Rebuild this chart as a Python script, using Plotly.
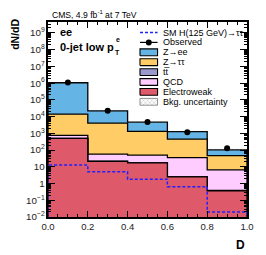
import plotly.graph_objects as go

# ---- data ----
bin_edges = [0.0, 0.2, 0.4, 0.6, 0.8, 1.0]
ewk = [500, 21, 17, 2.5, 0.37]
ttbar = [4, 0.4, 0.3, 0.1, 0.02]
qcd = [256, 35, 32, 33, 6.2]
ztt = [13200, 4040, 1270, 414, 40]
zee = [1036000, 17900, 3280, 800, 57]
higgs = [13, 5.0, 1.8, 0.65, 0.02]
observed = [1.1e6, 2.2e4, 4700, 1150, 130]
bkg_rel_unc = [0.04, 0.05, 0.06, 0.08, 0.15]

legend_labels = ["SM H(125 GeV)\u2192\u03c4\u03c4", "Observed", "Z\u2192ee", "Z\u2192\u03c4\u03c4",
                 "tt\u0305", "QCD", "Electroweak", "Bkg. uncertainty"]

colors = {"zee": "#64B4E6", "ztt": "#FFCC66", "tt": "#9999CC", "qcd": "#FFCCFF", "ewk": "#DE5A6A"}
FONT = "Liberation Sans, Arial, Helvetica, sans-serif"
BASE = 1e-3

def step_poly(vals):
    xs, ys = [bin_edges[0]], [BASE]
    for i, v in enumerate(vals):
        xs += [bin_edges[i], bin_edges[i + 1]]
        ys += [v, v]
    xs.append(bin_edges[-1]); ys.append(BASE)
    return xs, ys

def cumsum_layers(*layers):
    out, acc = [], [0.0] * len(layers[0])
    for lay in layers:
        acc = [a + b for a, b in zip(acc, lay)]
        out.append(list(acc))
    return out

cum_ewk, cum_tt, cum_qcd, cum_ztt, cum_zee = cumsum_layers(ewk, ttbar, qcd, ztt, zee)

fig = go.Figure()
for vals, col in [(cum_zee, colors["zee"]), (cum_ztt, colors["ztt"]), (cum_qcd, colors["qcd"]),
                  (cum_tt, colors["tt"]), (cum_ewk, colors["ewk"])]:
    xs, ys = step_poly(vals)
    fig.add_trace(go.Scatter(x=xs, y=ys, mode="lines", fill="toself", fillcolor=col,
                             line=dict(color="black", width=1.3), hoverinfo="skip", showlegend=False))

# uncertainty band
up = [t * (1 + u) for t, u in zip(cum_zee, bkg_rel_unc)]
lo = [t * (1 - u) for t, u in zip(cum_zee, bkg_rel_unc)]
bx, by = [], []
for i in range(len(up)):
    bx += [bin_edges[i], bin_edges[i + 1]]; by += [up[i], up[i]]
for i in reversed(range(len(lo))):
    bx += [bin_edges[i + 1], bin_edges[i]]; by += [lo[i], lo[i]]
fig.add_trace(go.Scatter(x=bx, y=by, mode="lines", fill="toself", line=dict(width=0),
                         fillcolor="rgba(0,0,0,0)",
                         fillpattern=dict(shape="x", fgcolor="#777777", bgcolor="rgba(0,0,0,0)", size=3, solidity=0.3),
                         hoverinfo="skip", showlegend=False))

# Higgs
hx, hy = step_poly(higgs)
fig.add_trace(go.Scatter(x=hx, y=hy, mode="lines", line=dict(color="#2020FF", width=1.5, dash="3px,2px"),
                         hoverinfo="skip", showlegend=False))

# observed
centers = [(bin_edges[i] + bin_edges[i + 1]) / 2 for i in range(len(observed))]
fig.add_trace(go.Scatter(x=centers, y=observed, mode="markers", marker=dict(color="black", size=6),
                         showlegend=False))

# ---- manual legend on overlay axes ----
W, H, L, T = 204, 195, 48, 22
def fx(px): return (px - L) / W
def fy(py): return (T + H - py) / H

rows = [32.5 + 9.9 * i for i in range(8)]
bx0, bx1 = fx(142.3), fx(160.3)
hh = 3.4 / H
# Higgs line
fig.add_trace(go.Scatter(x=[bx0, bx1], y=[fy(rows[0])] * 2, xaxis="x2", yaxis="y2", mode="lines",
                         line=dict(color="#2020FF", width=1.5, dash="3px,2px"), showlegend=False, hoverinfo="skip"))
# Observed
fig.add_trace(go.Scatter(x=[bx0, bx1], y=[fy(rows[1])] * 2, xaxis="x2", yaxis="y2", mode="lines",
                         line=dict(color="black", width=1.2), showlegend=False, hoverinfo="skip"))
fig.add_trace(go.Scatter(x=[(bx0 + bx1) / 2], y=[fy(rows[1])], xaxis="x2", yaxis="y2", mode="markers",
                         marker=dict(color="black", size=6), showlegend=False, hoverinfo="skip"))
for r, col in zip(rows[2:7], [colors["zee"], colors["ztt"], colors["tt"], colors["qcd"], colors["ewk"]]):
    yc = fy(r)
    fig.add_trace(go.Scatter(x=[bx0, bx1, bx1, bx0, bx0], y=[yc - hh, yc - hh, yc + hh, yc + hh, yc - hh],
                             xaxis="x2", yaxis="y2", mode="lines", fill="toself", fillcolor=col,
                             line=dict(color="black", width=1.1), showlegend=False, hoverinfo="skip"))
yc = fy(rows[7])
fig.add_trace(go.Scatter(x=[bx0, bx1, bx1, bx0, bx0], y=[yc - hh, yc - hh, yc + hh, yc + hh, yc - hh],
                         xaxis="x2", yaxis="y2", mode="lines", fill="toself", fillcolor="white",
                         fillpattern=dict(shape="x", fgcolor="#777777", bgcolor="white", size=3, solidity=0.3),
                         line=dict(color="#777777", width=0.8), showlegend=False, hoverinfo="skip"))

annotations = []
for r, lab in zip(rows, legend_labels):
    annotations.append(dict(x=fx(164.0), y=fy(r), xref="paper", yref="paper", text=lab, showarrow=False,
                            xanchor="left", yanchor="middle", font=dict(family=FONT, size=9, color="black")))

annotations += [
    dict(x=fx(13.5), y=fy(17), xref="paper", yref="paper", text="<b>dN/dD</b>", textangle=-90, showarrow=False,
         xanchor="center", yanchor="top", font=dict(family=FONT, size=10.5, color="black")),
    dict(x=1.0, y=fy(245.5), xref="paper", yref="paper", text="<b>D</b>", showarrow=False,
         xanchor="right", yanchor="middle", font=dict(family=FONT, size=12, color="black")),
    dict(x=fx(50.5), y=fy(15), xref="paper", yref="paper", text="CMS, 4.9 fb<sup>-1</sup> at 7 TeV", showarrow=False,
         xanchor="left", yanchor="middle", font=dict(family=FONT, size=8.6, color="black")),
    dict(x=fx(58), y=fy(32), xref="paper", yref="paper", text="<b>ee</b>", showarrow=False,
         xanchor="left", yanchor="middle", font=dict(family=FONT, size=11, color="black")),
    dict(x=fx(58), y=fy(46.7), xref="paper", yref="paper", text="<b>0-jet low p</b>", showarrow=False,
         xanchor="left", yanchor="middle", font=dict(family=FONT, size=11, color="black")),
    dict(x=fx(119.5), y=fy(39.5), xref="paper", yref="paper", text="<b>e</b>", showarrow=False,
         xanchor="center", yanchor="middle", font=dict(family=FONT, size=7, color="black")),
    dict(x=fx(119.5), y=fy(52), xref="paper", yref="paper", text="<b>T</b>", showarrow=False,
         xanchor="center", yanchor="middle", font=dict(family=FONT, size=7, color="black")),
]

fig.update_layout(
    width=266, height=255, margin=dict(l=L, r=266 - L - W, t=T, b=255 - T - H),
    paper_bgcolor="white", plot_bgcolor="white", showlegend=False,
    font=dict(family=FONT, color="black"),
    xaxis=dict(range=[0, 1], tick0=0, dtick=0.2, tickformat=".1f", ticks="inside", ticklen=6, tickwidth=1,
               tickcolor="black", mirror="ticks", showline=True, linecolor="black", linewidth=1.5,
               showgrid=False, zeroline=False, tickfont=dict(size=9.5, color="#222"),
               minor=dict(ticks="inside", dtick=0.05, ticklen=3, tickcolor="black", showgrid=False)),
    yaxis=dict(type="log", range=[-2, 9.65], dtick=1, exponentformat="power", ticks="inside", ticklen=7,
               tickwidth=1, tickcolor="black", mirror="ticks", showline=True, linecolor="black", linewidth=1.5,
               showgrid=False, zeroline=False, tickfont=dict(size=7.8, color="#222"),
               minor=dict(ticks="inside", ticklen=3.5, tickcolor="black", showgrid=False)),
    xaxis2=dict(overlaying="x", range=[0, 1], visible=False, fixedrange=True),
    yaxis2=dict(overlaying="y", range=[0, 1], visible=False, fixedrange=True),
    annotations=annotations,
)

fig.write_html("out.html", config={"displayModeBar": False},
               post_script="document.body.style.margin='0px';document.body.style.overflow='hidden';")
